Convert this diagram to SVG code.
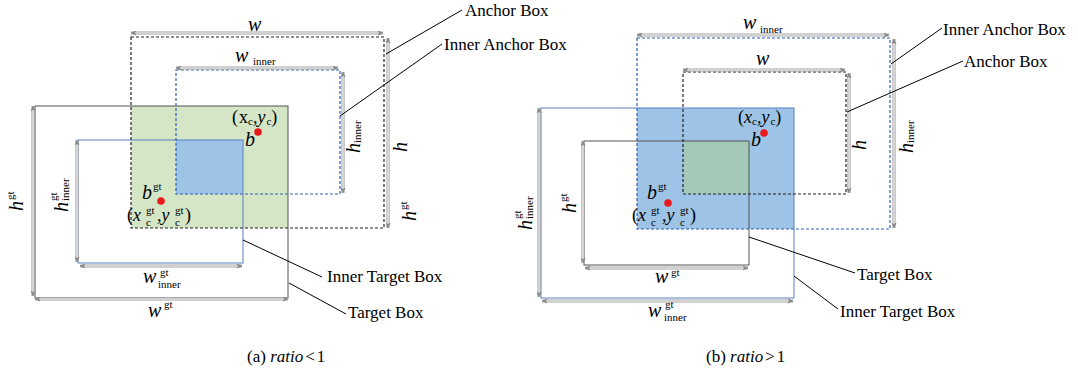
<svg xmlns="http://www.w3.org/2000/svg" width="1078" height="370" viewBox="0 0 1078 370">
<style>
.lbl{font-family:"Liberation Serif",serif;font-size:17px;fill:#000}
.mi{font-family:"Liberation Serif",serif;font-style:italic;font-size:20px;fill:#000}
.co{font-family:"Liberation Serif",serif;font-style:italic;font-size:18px;fill:#000}
.sm{font-size:11px;font-style:normal}
.dimo{stroke:#a3a3a3;stroke-width:3.2;fill:none}
.dimi{stroke:#fff;stroke-width:1.1;fill:none}
.anc{fill:none;stroke:#222;stroke-width:1.2;stroke-dasharray:3 2}
.ianc{fill:none;stroke:#2e5fb3;stroke-width:1.2;stroke-dasharray:3 2}
.tgt{fill:none;stroke:#555;stroke-width:1}
.itgt{fill:none;stroke:#5a7ec2;stroke-width:1}
.lead{stroke:#000;stroke-width:1;fill:none}
.dot{fill:#e8191c}
</style>
<defs>
<marker id="ah" viewBox="0 0 6 6" refX="6" refY="3" markerWidth="5" markerHeight="5" orient="auto-start-reverse" markerUnits="userSpaceOnUse">
<path d="M0,0 L6,3 L0,6 z" fill="#888"/>
</marker>
</defs>
<rect width="1078" height="370" fill="#fff"/>

<!-- LEFT PANEL -->
<g id="left-fills">
<rect x="131" y="106" width="157" height="122" fill="#d4e6c6"/>
<rect x="176" y="140" width="67" height="54" fill="#9dc3e6"/>
</g>
<g id="left-target-box"><rect class="tgt" x="35" y="106" width="253" height="192"/></g>
<g id="left-inner-target-box"><rect class="itgt" x="78" y="140" width="165" height="123"/></g>
<g id="left-anchor-box"><rect class="anc" x="131" y="37" width="253" height="191"/></g>
<g id="left-inner-anchor-box"><rect class="ianc" x="176" y="70" width="164" height="124"/></g>

<g id="left-dimensions">
<path class="dimo" marker-start="url(#ah)" marker-end="url(#ah)" d="M131 33H383"/><path class="dimi" d="M135 33H379"/>
<path class="dimo" marker-start="url(#ah)" marker-end="url(#ah)" d="M176 68H338"/><path class="dimi" d="M180 68H334"/>
<path class="dimo" marker-start="url(#ah)" marker-end="url(#ah)" d="M388 38V228"/><path class="dimi" d="M388 42V224"/>
<path class="dimo" marker-start="url(#ah)" marker-end="url(#ah)" d="M343 72V193"/><path class="dimi" d="M343 76V189"/>
<path class="dimo" marker-start="url(#ah)" marker-end="url(#ah)" d="M33 106V296"/><path class="dimi" d="M33 110V292"/>
<path class="dimo" marker-start="url(#ah)" marker-end="url(#ah)" d="M77 140V262"/><path class="dimi" d="M77 144V258"/>
<path class="dimo" marker-start="url(#ah)" marker-end="url(#ah)" d="M80 266H242"/><path class="dimi" d="M84 266H238"/>
<path class="dimo" marker-start="url(#ah)" marker-end="url(#ah)" d="M35 299H288"/><path class="dimi" d="M39 299H284"/>
</g>

<g id="left-points">
<circle class="dot" cx="258" cy="132" r="3.8"/>
<circle class="dot" cx="161" cy="201" r="3.8"/>
</g>

<g id="left-labels">
<text class="mi" x="248" y="31">w</text>
<text class="mi" x="235" y="62">w<tspan class="sm" x="253" y="65">inner</tspan></text>
<text class="mi" transform="translate(407,152) rotate(-90)">h</text>
<text class="mi" transform="translate(360,153) rotate(-90)">h<tspan class="sm" x="10" y="1">inner</tspan></text>
<text class="mi" transform="translate(416,221) rotate(-90)">h<tspan class="sm" x="11" y="-9">gt</tspan></text>
<text class="mi" transform="translate(23,211) rotate(-90)">h<tspan class="sm" x="11" y="-9">gt</tspan></text>
<text class="mi" transform="translate(68,212) rotate(-90)">h<tspan class="sm" x="11" y="-11">gt</tspan><tspan class="sm" x="11" y="1">inner</tspan></text>
<text class="mi" x="143" y="283">w<tspan class="sm" x="160" y="276">gt</tspan><tspan class="sm" x="158" y="288">inner</tspan></text>
<text class="mi" x="148" y="317">w<tspan class="sm" x="164" y="308">gt</tspan></text>
<text class="co" x="232" y="123"><tspan font-style="normal">(</tspan><tspan font-style="normal" dx="1">x</tspan><tspan class="sm" dy="2">c</tspan><tspan dy="-2">,</tspan><tspan>y</tspan><tspan class="sm" dx="1" dy="2">c</tspan><tspan font-style="normal" dy="-2">)</tspan></text>
<text class="mi" x="245" y="146">b</text>
<text class="mi" x="142" y="199">b<tspan class="sm" x="153" y="190">gt</tspan></text>
<text class="co" x="127" y="221"><tspan font-style="normal">(</tspan>x<tspan class="sm" x="146" y="214">gt</tspan><tspan class="sm" x="146" y="226">c</tspan><tspan x="157" y="221">,y</tspan><tspan class="sm" x="175" y="214">gt</tspan><tspan class="sm" x="175" y="226">c</tspan><tspan font-style="normal" x="185" y="221">)</tspan></text>
</g>

<g id="left-callouts">
<path class="lead" d="M386 54L462 10"/>
<path class="lead" d="M340 116L442 44"/>
<path class="lead" d="M243 240L322 277"/>
<path class="lead" d="M289 283L346 314"/>
<text class="lbl" x="465" y="16">Anchor Box</text>
<text class="lbl" x="444" y="50">Inner Anchor Box</text>
<text class="lbl" x="327" y="282">Inner Target Box</text>
<text class="lbl" x="348" y="318">Target Box</text>
</g>

<!-- RIGHT PANEL -->
<g id="right-fills">
<rect x="637" y="108" width="157" height="121" fill="#9dc3e6"/>
<rect x="683" y="141" width="66" height="53" fill="#a4c9b8"/>
</g>
<g id="right-inner-target-box"><rect class="itgt" x="541" y="108" width="253" height="190"/></g>
<g id="right-target-box"><rect class="tgt" x="584" y="141" width="165" height="124" stroke="#444"/></g>
<g id="right-inner-anchor-box"><rect class="ianc" x="637" y="38" width="253" height="191"/></g>
<g id="right-anchor-box"><rect class="anc" x="683" y="72" width="163" height="122"/></g>

<g id="right-dimensions">
<path class="dimo" marker-start="url(#ah)" marker-end="url(#ah)" d="M637 35H889"/><path class="dimi" d="M641 35H885"/>
<path class="dimo" marker-start="url(#ah)" marker-end="url(#ah)" d="M683 70H845"/><path class="dimi" d="M687 70H841"/>
<path class="dimo" marker-start="url(#ah)" marker-end="url(#ah)" d="M894 39V228"/><path class="dimi" d="M894 43V224"/>
<path class="dimo" marker-start="url(#ah)" marker-end="url(#ah)" d="M849 73V193"/><path class="dimi" d="M849 77V189"/>
<path class="dimo" marker-start="url(#ah)" marker-end="url(#ah)" d="M539 108V297"/><path class="dimi" d="M539 112V293"/>
<path class="dimo" marker-start="url(#ah)" marker-end="url(#ah)" d="M583 141V263"/><path class="dimi" d="M583 145V259"/>
<path class="dimo" marker-start="url(#ah)" marker-end="url(#ah)" d="M585 268H748"/><path class="dimi" d="M589 268H744"/>
<path class="dimo" marker-start="url(#ah)" marker-end="url(#ah)" d="M542 301H793"/><path class="dimi" d="M546 301H789"/>
</g>

<g id="right-points">
<circle class="dot" cx="764" cy="133" r="3.8"/>
<circle class="dot" cx="668" cy="203" r="3.8"/>
</g>

<g id="right-labels">
<text class="mi" x="743" y="29">w<tspan class="sm" x="760" y="33">inner</tspan></text>
<text class="mi" x="756" y="65">w</text>
<text class="mi" transform="translate(866,150) rotate(-90)">h</text>
<text class="mi" transform="translate(913,153) rotate(-90)">h<tspan class="sm" x="10" y="1">inner</tspan></text>
<text class="mi" transform="translate(532,230) rotate(-90)">h<tspan class="sm" x="11" y="-11">gt</tspan><tspan class="sm" x="11" y="1">inner</tspan></text>
<text class="mi" transform="translate(576,213) rotate(-90)">h<tspan class="sm" x="11" y="-9">gt</tspan></text>
<text class="mi" x="655" y="283">w<tspan class="sm" x="671" y="276">gt</tspan></text>
<text class="mi" x="648" y="317">w<tspan class="sm" x="665" y="308">gt</tspan><tspan class="sm" x="664" y="321">inner</tspan></text>
<text class="co" x="738" y="123"><tspan font-style="normal">(</tspan>x<tspan class="sm" dy="2">c</tspan><tspan dy="-2">,</tspan>y<tspan class="sm" dx="1" dy="2">c</tspan><tspan font-style="normal" dy="-2">)</tspan></text>
<text class="mi" x="751" y="146">b</text>
<text class="mi" x="647" y="199">b<tspan class="sm" x="658" y="190">gt</tspan></text>
<text class="co" x="632" y="221"><tspan font-style="normal">(</tspan>x<tspan class="sm" x="651" y="214">gt</tspan><tspan class="sm" x="651" y="226">c</tspan><tspan x="662" y="221">,y</tspan><tspan class="sm" x="680" y="214">gt</tspan><tspan class="sm" x="680" y="226">c</tspan><tspan font-style="normal" x="690" y="221">)</tspan></text>
</g>

<g id="right-callouts">
<path class="lead" d="M891 64L942 28"/>
<path class="lead" d="M847 112L963 61"/>
<path class="lead" d="M749 237L855 273"/>
<path class="lead" d="M794 276L838 309"/>
<text class="lbl" x="943" y="35">Inner Anchor Box</text>
<text class="lbl" x="964" y="67">Anchor Box</text>
<text class="lbl" x="857" y="280">Target Box</text>
<text class="lbl" x="840" y="317">Inner Target Box</text>
</g>

<g id="captions">
<text class="lbl" x="247" y="362">(a) <tspan font-style="italic">ratio</tspan><tspan dx="2">&lt;</tspan><tspan dx="2">1</tspan></text>
<text class="lbl" x="706" y="362">(b) <tspan font-style="italic">ratio</tspan><tspan dx="2">&gt;</tspan><tspan dx="2">1</tspan></text>
</g>
</svg>
